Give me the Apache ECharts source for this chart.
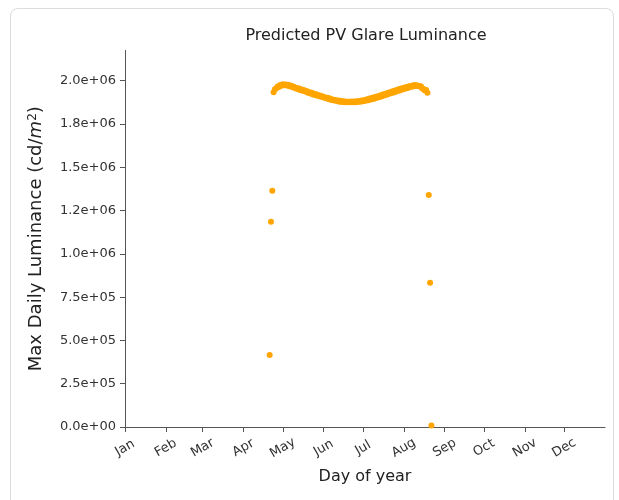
<!DOCTYPE html>
<html>
<head>
<meta charset="utf-8">
<script src="https://cdn.jsdelivr.net/npm/echarts@6/dist/echarts.min.js"></script>
<style>
  html, body { margin: 0; padding: 0; background: #fff; }
  #card {
    position: absolute; left: 10px; top: 8px; width: 602px; height: 520px;
    border: 1px solid #dcdcdc; border-radius: 8px; background: #fff;
  }
  #chart { position: absolute; left: 0; top: 0; width: 619px; height: 500px; }
</style>
</head>
<body>
<div id="card"></div>
<div id="chart"></div>
<script>
// Day of year (0 = 1 Jan) for every day that produced glare
const dayOfYear = [
  110, 111, 112,
  113, 114, 115, 116, 117, 118, 119, 120, 121, 122, 123, 124, 125, 126, 127, 128, 129, 130,
  131, 132, 133, 134, 135, 136, 137, 138, 139, 140, 141, 142, 143, 144, 145, 146, 147, 148,
  149, 150, 151, 152, 153, 154, 155, 156, 157, 158, 159, 160, 161, 162, 163, 164, 165, 166,
  167, 168, 169, 170, 171, 172, 173, 174, 175, 176, 177, 178, 179, 180, 181, 182, 183, 184,
  185, 186, 187, 188, 189, 190, 191, 192, 193, 194, 195, 196, 197, 198, 199, 200, 201, 202,
  203, 204, 205, 206, 207, 208, 209, 210, 211, 212, 213, 214, 215, 216, 217, 218, 219, 220,
  221, 222, 223, 224, 225, 226, 227, 228, 229, 230, 231,
  232, 233, 234
];

// Maximum daily luminance, cd/m^2 (same order as dayOfYear)
const maxLuminance = [
  416000, 1186000, 1365000,
  1934000, 1951000, 1955000, 1966000, 1964000, 1975000, 1971000, 1979000, 1974000, 1978000,
  1972000, 1976000, 1968000, 1972000, 1963000, 1966000, 1958000, 1960000, 1952000, 1956000,
  1947000, 1950000, 1942000, 1946000, 1937000, 1941000, 1931000, 1935000, 1926000, 1930000,
  1921000, 1925000, 1916000, 1920000, 1911000, 1914000, 1907000, 1910000, 1903000, 1905000,
  1898000, 1902000, 1893000, 1897000, 1889000, 1892000, 1886000, 1889000, 1883000, 1886000,
  1879000, 1884000, 1877000, 1881000, 1876000, 1880000, 1875000, 1879000, 1876000, 1880000,
  1875000, 1880000, 1876000, 1882000, 1877000, 1883000, 1879000, 1886000, 1881000, 1889000,
  1884000, 1893000, 1887000, 1897000, 1891000, 1901000, 1895000, 1906000, 1900000, 1910000,
  1905000, 1915000, 1909000, 1920000, 1914000, 1925000, 1919000, 1930000, 1924000, 1935000,
  1929000, 1940000, 1934000, 1945000, 1939000, 1950000, 1944000, 1955000, 1949000, 1959000,
  1954000, 1963000, 1958000, 1968000, 1963000, 1971000, 1967000, 1975000, 1969000, 1974000,
  1970000, 1966000, 1968000, 1955000, 1952000, 1944000, 1947000, 1931000,
  1340000, 833000, 8000
];

// Month boundaries on the day-of-year axis
const monthStartDays = [0, 31, 59, 90, 120, 151, 181, 212, 243, 273, 304, 334];
const monthLabels = ['Jan', 'Feb', 'Mar', 'Apr', 'May', 'Jun', 'Jul', 'Aug', 'Sep', 'Oct', 'Nov', 'Dec'];

// Luminance ticks and their printed labels
const luminanceTicks = [0, 250000, 500000, 750000, 1000000, 1250000, 1500000, 1750000, 2000000];
const luminanceTickLabels = ['0.0e+00', '2.5e+05', '5.0e+05', '7.5e+05', '1.0e+06', '1.2e+06', '1.5e+06', '1.8e+06', '2.0e+06'];

const points = dayOfYear.map((d, i) => [d, maxLuminance[i]]);

const FONT = 'DejaVu Sans';
const AXIS_COLOR = '#555';
const TEXT_COLOR = '#333';

const chart = echarts.init(document.getElementById('chart'), null, { renderer: 'canvas' });
chart.setOption({
  backgroundColor: 'transparent',
  animation: false,
  textStyle: { fontFamily: FONT },
  title: {
    text: 'Predicted PV Glare Luminance',
    left: 361, top: 23, textAlign: 'center',
    textStyle: { fontFamily: FONT, fontSize: 16, fontWeight: 'normal', color: '#222' }
  },
  grid: { left: 125, right: 14, top: 50.4, bottom: 73, containLabel: false, outerBoundsMode: 'none' },
  xAxis: {
    type: 'value', min: 0, max: 365,
    name: 'Day of year', nameLocation: 'middle', nameGap: 42,
    nameTextStyle: { fontFamily: FONT, fontSize: 16, color: '#222' },
    splitLine: { show: false },
    axisLine: { show: true, onZero: false, lineStyle: { color: AXIS_COLOR, width: 1 } },
    axisTick: { show: true, length: 5, lineStyle: { color: AXIS_COLOR }, customValues: monthStartDays },
    axisLabel: {
      customValues: monthStartDays,
      rotate: 30, margin: 21,
      align: 'center', verticalAlign: 'middle',
      fontFamily: FONT, fontSize: 13, color: TEXT_COLOR,
      formatter: v => monthLabels[monthStartDays.indexOf(v)]
    }
  },
  yAxis: {
    type: 'value', min: 0, max: 2175000,
    name: 'Max Daily Luminance (cd/{i|m}{s|2})', nameLocation: 'middle', nameRotate: 90, nameGap: 79,
    nameTextStyle: {
      fontFamily: FONT, fontSize: 18, color: '#222',
      rich: {
        i: { fontFamily: FONT, fontSize: 18, fontStyle: 'italic', color: '#222' },
        s: { fontFamily: FONT, fontSize: 12, color: '#222', verticalAlign: 'top', padding: [0, 0, 7, 0] }
      }
    },
    splitLine: { show: false },
    axisLine: { show: true, onZero: false, lineStyle: { color: AXIS_COLOR, width: 1 } },
    axisTick: { show: true, length: 5, lineStyle: { color: AXIS_COLOR }, customValues: luminanceTicks },
    axisLabel: {
      customValues: luminanceTicks,
      margin: 9,
      fontFamily: FONT, fontSize: 13, color: TEXT_COLOR,
      formatter: v => luminanceTickLabels[luminanceTicks.indexOf(v)]
    }
  },
  series: [{
    type: 'scatter',
    data: points,
    symbol: 'circle',
    symbolSize: 6,
    itemStyle: { color: '#FFA500', opacity: 1 },
    clip: true
  }]
});
</script>
</body>
</html>
